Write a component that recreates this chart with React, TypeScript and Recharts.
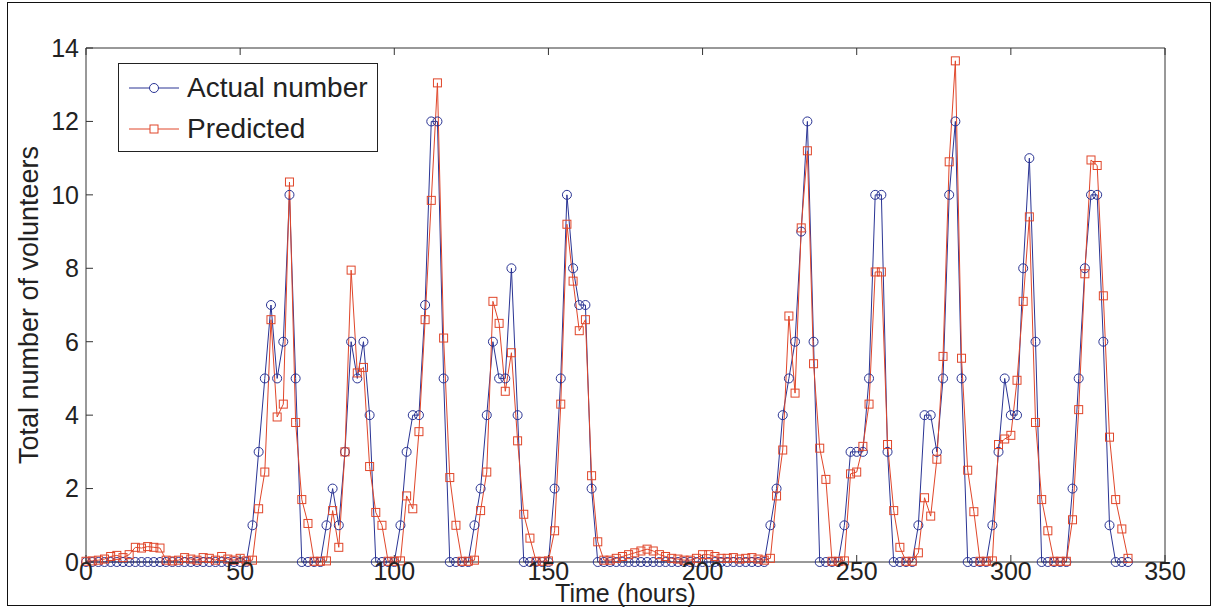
import React from 'react';
import { LineChart, Line, XAxis, YAxis, Legend } from 'recharts';

const hours: number[] = [
  0, 2, 4, 6, 8, 10, 12, 14, 16, 18,
  20, 22, 24, 26, 28, 30, 32, 34, 36, 38,
  40, 42, 44, 46, 48, 50, 52, 54, 56, 58,
  60, 62, 64, 66, 68, 70, 72, 74, 76, 78,
  80, 82, 84, 86, 88, 90, 92, 94, 96, 98,
  100, 102, 104, 106, 108, 110, 112, 114, 116, 118,
  120, 122, 124, 126, 128, 130, 132, 134, 136, 138,
  140, 142, 144, 146, 148, 150, 152, 154, 156, 158,
  160, 162, 164, 166, 168, 170, 172, 174, 176, 178,
  180, 182, 184, 186, 188, 190, 192, 194, 196, 198,
  200, 202, 204, 206, 208, 210, 212, 214, 216, 218,
  220, 222, 224, 226, 228, 230, 232, 234, 236, 238,
  240, 242, 244, 246, 248, 250, 252, 254, 256, 258,
  260, 262, 264, 266, 268, 270, 272, 274, 276, 278,
  280, 282, 284, 286, 288, 290, 292, 294, 296, 298,
  300, 302, 304, 306, 308, 310, 312, 314, 316, 318,
  320, 322, 324, 326, 328, 330, 332, 334, 336, 338,
];

const actualNumber: number[] = [
  0, 0, 0, 0, 0, 0, 0, 0, 0, 0,
  0, 0, 0, 0, 0, 0, 0, 0, 0, 0,
  0, 0, 0, 0, 0, 0, 0, 1, 3, 5,
  7, 5, 6, 10, 5, 0, 0, 0, 0, 1,
  2, 1, 3, 6, 5, 6, 4, 0, 0, 0,
  0, 1, 3, 4, 4, 7, 12, 12, 5, 0,
  0, 0, 0, 1, 2, 4, 6, 5, 5, 8,
  4, 0, 0, 0, 0, 0, 2, 5, 10, 8,
  7, 7, 2, 0, 0, 0, 0, 0, 0, 0,
  0, 0, 0, 0, 0, 0, 0, 0, 0, 0,
  0, 0, 0, 0, 0, 0, 0, 0, 0, 0,
  0, 1, 2, 4, 5, 6, 9, 12, 6, 0,
  0, 0, 0, 1, 3, 3, 3, 5, 10, 10,
  3, 0, 0, 0, 0, 1, 4, 4, 3, 5,
  10, 12, 5, 0, 0, 0, 0, 1, 3, 5,
  4, 4, 8, 11, 6, 0, 0, 0, 0, 0,
  2, 5, 8, 10, 10, 6, 1, 0, 0, 0,
];

const predicted: number[] = [
  0.02, 0.03, 0.05, 0.08, 0.15, 0.18, 0.12, 0.2, 0.4, 0.38,
  0.42, 0.4, 0.38, 0.05, 0.03, 0.05, 0.12, 0.08, 0.05, 0.12,
  0.1, 0.05, 0.15, 0.08, 0.05, 0.1, 0.03, 0.05, 1.45, 2.45,
  6.6, 3.95, 4.3, 10.35, 3.8, 1.7, 1.05, 0.02, 0.02, 0.03,
  1.4, 0.4, 3.0, 7.95, 5.15, 5.3, 2.6, 1.35, 1.0, 0.02,
  0.02, 0.03, 1.8, 1.45, 3.55, 6.6, 9.85, 13.05, 6.1, 2.3,
  1.0, 0.02, 0.02, 0.05, 1.4, 2.45, 7.1, 6.5, 4.65, 5.7,
  3.3, 1.3, 0.65, 0.02, 0.02, 0.03, 0.85, 4.3, 9.2, 7.65,
  6.3, 6.6, 2.35, 0.55, 0.05, 0.05, 0.1, 0.15, 0.2, 0.25,
  0.3, 0.35, 0.3, 0.2, 0.15, 0.1, 0.08, 0.05, 0.05, 0.1,
  0.2, 0.2, 0.15, 0.1, 0.1, 0.12, 0.08, 0.1, 0.12, 0.08,
  0.05, 0.1, 1.8, 3.05, 6.7, 4.6, 9.1, 11.2, 5.4, 3.1,
  2.25, 0.02, 0.02, 0.03, 2.4, 2.45, 3.15, 4.3, 7.9, 7.9,
  3.2, 1.4, 0.4, 0.02, 0.02, 0.25, 1.75, 1.25, 2.8, 5.6,
  10.9, 13.65, 5.55, 2.5, 1.37, 0.02, 0.02, 0.03, 3.2, 3.35,
  3.45, 4.95, 7.1, 9.4, 3.8, 1.7, 0.85, 0.02, 0.02, 0.02,
  1.15, 4.15, 7.85, 10.95, 10.8, 7.25, 3.4, 1.7, 0.9, 0.1,
];

const xTicks: number[] = [0, 50, 100, 150, 200, 250, 300, 350];
const yTicks: number[] = [0, 2, 4, 6, 8, 10, 12, 14];

const seriesNames = { actual: 'Actual number', predicted: 'Predicted' };

const BLUE = '#2a3494';
const RED = '#e0462a';
const AXIS = '#333333';
const FONT = '"Liberation Sans", Arial, Helvetica, sans-serif';

const data = hours.map((h, i) => ({ hour: h, actual: actualNumber[i], predicted: predicted[i] }));

const SquareDot = (props: any) => {
  const { cx, cy, index } = props;
  if (cx == null || cy == null) return <g key={`sq-${index}`} />;
  return (
    <rect key={`sq-${index}`} x={cx - 4} y={cy - 4} width={8} height={8} fill="none" stroke={RED} strokeWidth={1} />
  );
};

const NoLabel = () => <g />;

const LegendBox = () => (
  <div
    style={{
      width: 260,
      height: 89,
      border: `1.5px solid #222`,
      background: '#fff',
      boxSizing: 'border-box',
      fontFamily: FONT,
      fontSize: 28,
      color: '#222',
      padding: '3px 0 0 8px',
      lineHeight: 1,
    }}
  >
    <div style={{ display: 'flex', alignItems: 'center', height: 41 }}>
      <svg width={54} height={20} style={{ marginRight: 6, flex: 'none' }}>
        <line x1={2} y1={10} x2={52} y2={10} stroke={BLUE} strokeWidth={1} />
        <circle cx={27} cy={10} r={4.5} fill="#fff" stroke={BLUE} strokeWidth={1} />
      </svg>
      <span style={{ whiteSpace: 'nowrap' }}>{seriesNames.actual}</span>
    </div>
    <div style={{ display: 'flex', alignItems: 'center', height: 41 }}>
      <svg width={54} height={20} style={{ marginRight: 6, flex: 'none' }}>
        <line x1={2} y1={10} x2={52} y2={10} stroke={RED} strokeWidth={1} />
        <rect x={23} y={6} width={8} height={8} fill="#fff" stroke={RED} strokeWidth={1} />
      </svg>
      <span style={{ whiteSpace: 'nowrap' }}>{seriesNames.predicted}</span>
    </div>
  </div>
);

export default function App() {
  const tickStyle = { fontSize: 25, fill: '#222', fontFamily: FONT };
  const labelStyle = { fontSize: 25, fill: '#222', fontFamily: FONT };
  return (
    <div style={{ position: 'absolute', left: 0, top: 0, width: 1215, height: 610, background: '#fff' }}>
      <div
        style={{
          position: 'absolute',
          left: 7,
          top: 2,
          width: 1204,
          height: 604,
          border: '1.5px solid #111',
          boxSizing: 'border-box',
        }}
      />
      <div style={{ position: 'absolute', left: 0, top: 0 }}>
        <LineChart
          width={1215}
          height={610}
          data={data}
          margin={{ top: 47, right: 49, bottom: 8, left: 0 }}
        >
          <XAxis
            dataKey="hour"
            type="number"
            domain={[0, 350]}
            ticks={xTicks}
            interval={0}
            height={40}
            tickSize={-7}
            tickMargin={7}
            stroke={AXIS}
            tick={tickStyle}
            label={{ value: 'Time (hours)', position: 'insideBottom', offset: 0, style: labelStyle }}
          />
          <XAxis
            xAxisId="top"
            dataKey="hour"
            type="number"
            orientation="top"
            domain={[0, 350]}
            ticks={xTicks}
            interval={0}
            height={1}
            tickSize={-7}
            stroke={AXIS}
            tick={NoLabel}
          />
          <YAxis
            type="number"
            domain={[0, 14]}
            ticks={yTicks}
            interval={0}
            width={86}
            tickSize={-7}
            tickMargin={14}
            stroke={AXIS}
            tick={tickStyle}
            label={{
              value: 'Total number of volunteers',
              angle: -90,
              position: 'insideLeft',
              offset: 28,
              style: { fontSize: 27, fill: '#222', fontFamily: FONT, textAnchor: 'middle' },
            }}
          />
          <YAxis
            yAxisId="right"
            orientation="right"
            type="number"
            domain={[0, 14]}
            ticks={yTicks}
            interval={0}
            width={1}
            tickSize={-7}
            stroke={AXIS}
            tick={NoLabel}
          />
          <Legend
            layout="horizontal"
            verticalAlign="middle"
            align="center"
            content={() => <LegendBox />}
            wrapperStyle={{ position: 'absolute', left: 118, top: 63, width: 260, height: 89 }}
          />
          <Line
            type="linear"
            dataKey="actual"
            name={seriesNames.actual}
            stroke={BLUE}
            strokeWidth={1}
            dot={{ r: 4.5, fill: 'none', stroke: BLUE, strokeWidth: 1 }}
            activeDot={false}
            isAnimationActive={false}
          />
          <Line
            type="linear"
            dataKey="predicted"
            name={seriesNames.predicted}
            stroke={RED}
            strokeWidth={1}
            dot={SquareDot}
            activeDot={false}
            isAnimationActive={false}
          />
        </LineChart>
      </div>
    </div>
  );
}
